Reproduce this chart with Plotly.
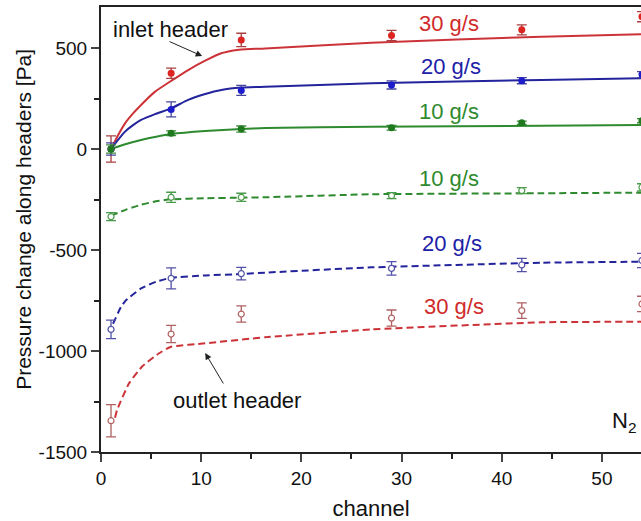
import plotly.graph_objects as go

# Measurement channels
channels = [1, 7, 14, 29, 42, 54]

# Inlet header (filled markers) - pressure change [Pa]
inlet_30 = [0, 375, 540, 562, 590, 655]
inlet_30_err = [65, 25, 33, 25, 25, 25]
inlet_20 = [0, 196, 290, 317, 338, 368]
inlet_20_err = [30, 37, 25, 20, 15, 15]
inlet_10 = [0, 78, 99, 105, 130, 140]
inlet_10_err = [20, 12, 15, 12, 8, 10]

# Outlet header (open markers)
outlet_10 = [-335, -239, -239, -231, -206, -190]
outlet_10_err = [20, 25, 20, 15, 15, 18]
outlet_20 = [-893, -640, -617, -591, -574, -552]
outlet_20_err = [46, 52, 31, 33, 33, 35]
outlet_30 = [-1345, -916, -817, -837, -800, -767]
outlet_30_err = [80, 43, 40, 40, 38, 38]

# Fitted curves
fit_in_30_x = [1, 1.7, 2.4, 3.2, 4.0, 5.4, 7.0, 8.7, 10.4, 12.0, 13.2, 14.0, 16.4, 27, 44, 54]
fit_in_30_y = [0, 68, 127, 176, 218, 284, 337, 391, 437, 474, 488, 493, 498, 526, 556, 568]
fit_in_20_x = [1, 1.7, 2.4, 3.2, 4.0, 5.4, 7.0, 8.7, 10.4, 12.0, 14.0, 16.4, 27, 44, 54]
fit_in_20_y = [0, 45, 86, 118, 144, 173, 201, 243, 272, 292, 304, 308, 325, 342, 350]
fit_in_10_x = [1, 2.5, 4.0, 5.5, 7.0, 10.4, 14.0, 16.4, 27, 44, 54]
fit_in_10_y = [0, 25, 45, 61, 74, 89, 99, 104, 110, 115, 119]

fit_out_10_x = [1, 2.5, 4.0, 5.5, 7.0, 10.4, 14.0, 16.4, 27, 44, 54]
fit_out_10_y = [-330, -300, -276, -259, -249, -244, -241, -239, -224, -219, -216]
fit_out_20_x = [1.2, 2.0, 2.5, 4.0, 5.5, 7.0, 10.4, 14.0, 16.4, 27, 44, 54]
fit_out_20_y = [-865, -781, -748, -690, -657, -637, -626, -619, -612, -586, -563, -558]
fit_out_30_x = [1.4, 1.6, 2.8, 4.1, 5.8, 7.0, 10.4, 16.4, 27, 44, 54]
fit_out_30_y = [-1330, -1292, -1160, -1077, -1011, -979, -962, -932, -893, -858, -855]

# Axis ticks
y_ticks = [-1500, -1000, -500, 0, 500]
y_tick_text = ["-1500", "-1000", "-500", "0", "500"]

RED, BLUE, GREEN = "#cc3338", "#23239c", "#2e8a2e"
FONT = "Liberation Sans, Arial, sans-serif"

fig = go.Figure()


def add_fit(x, y, color, dash):
    fig.add_trace(go.Scatter(
        x=x, y=y, mode="lines",
        line=dict(color=color, width=2, dash=dash, shape="spline", smoothing=0.4),
        hoverinfo="skip", showlegend=False))


def add_points(y, err, color, err_color, filled):
    marker = dict(size=7, color=color) if filled else dict(
        size=6, color="white", line=dict(color=err_color, width=1.2))
    fig.add_trace(go.Scatter(
        x=channels, y=y, mode="markers", marker=marker,
        error_y=dict(type="data", array=err, visible=True, color=err_color, thickness=1.3, width=5),
        showlegend=False))


add_fit(fit_in_30_x, fit_in_30_y, RED, "solid")
add_fit(fit_in_20_x, fit_in_20_y, BLUE, "solid")
add_fit(fit_in_10_x, fit_in_10_y, GREEN, "solid")
add_fit(fit_out_10_x, fit_out_10_y, GREEN, "7px,4px")
add_fit(fit_out_20_x, fit_out_20_y, BLUE, "7px,4px")
add_fit(fit_out_30_x, fit_out_30_y, RED, "7px,4px")

add_points(inlet_30, inlet_30_err, "#dc2420", "#a84040", True)
add_points(inlet_20, inlet_20_err, "#1c1ccc", "#45459c", True)
add_points(inlet_10, inlet_10_err, "#1f7a1f", "#3c8c3c", True)
add_points(outlet_10, outlet_10_err, "#3a963a", "#4a9a4a", False)
add_points(outlet_20, outlet_20_err, "#4848a0", "#5252a6", False)
add_points(outlet_30, outlet_30_err, "#b05858", "#b06060", False)

# Flow-rate labels
labels = [
    (34.7, 619, "30 g/s", "#d02a2a"),
    (34.9, 406, "20 g/s", "#2020a8"),
    (34.7, 188, "10 g/s", "#2e8a2e"),
    (34.7, -144, "10 g/s", "#2e8a2e"),
    (35.0, -470, "20 g/s", "#2020a8"),
    (35.2, -782, "30 g/s", "#d02a2a"),
]
for x, y, t, c in labels:
    fig.add_annotation(x=x, y=y, text=t, showarrow=False, font=dict(family=FONT, size=22, color=c))

fig.add_annotation(x=6.9, y=594, text="inlet header", showarrow=False,
                   font=dict(family=FONT, size=22, color="#111"))
fig.add_annotation(x=10.1, y=460, ax=6.7, ay=535, axref="x", ayref="y", text="",
                   showarrow=True, arrowhead=2, arrowsize=1.3, arrowwidth=1, arrowcolor="#222")
fig.add_annotation(x=13.6, y=-1243, text="outlet header", showarrow=False,
                   font=dict(family=FONT, size=22, color="#111"))
fig.add_annotation(x=10.4, y=-1010, ax=12.3, ay=-1168, axref="x", ayref="y", text="",
                   showarrow=True, arrowhead=2, arrowsize=1.3, arrowwidth=1, arrowcolor="#222")
fig.add_annotation(x=52.2, y=-1351, text="N<sub>2</sub>", showarrow=False,
                   font=dict(family=FONT, size=22, color="#111"))

# Y-axis title, set close to the tick labels
fig.add_annotation(xref="paper", yref="paper", x=-0.1426, y=0.524, textangle=-90,
                   xanchor="center", yanchor="middle",
                   text="Pressure change along headers [Pa]", showarrow=False,
                   font=dict(family=FONT, size=21, color="#111"))

fig.update_layout(
    width=641, height=521,
    margin=dict(l=101, r=0, t=7, b=69),
    paper_bgcolor="white", plot_bgcolor="white",
    font=dict(family=FONT, size=18, color="#111"),
    showlegend=False,
    xaxis=dict(
        range=[0, 53.9], dtick=10, tick0=0, ticks="outside", ticklen=8, tickwidth=2,
        showgrid=False, zeroline=False, showline=True, linewidth=2, linecolor="#222",
        mirror=True, tickfont=dict(size=19), automargin=False,
        minor=dict(dtick=5, ticks="outside", ticklen=5, tickwidth=2, tickcolor="#222"),
        title=dict(text="channel", font=dict(size=22), standoff=14),
    ),
    yaxis=dict(
        range=[-1500, 703], tickmode="array", tickvals=y_ticks, ticktext=y_tick_text,
        ticks="outside", ticklen=8, tickwidth=2, automargin=False,
        showgrid=False, zeroline=False, showline=True, linewidth=2, linecolor="#222",
        tickfont=dict(size=19),
        minor=dict(dtick=250, tick0=0, ticks="outside", ticklen=5, tickwidth=2, tickcolor="#222"),
    ),
)

fig.write_html("out.html")
